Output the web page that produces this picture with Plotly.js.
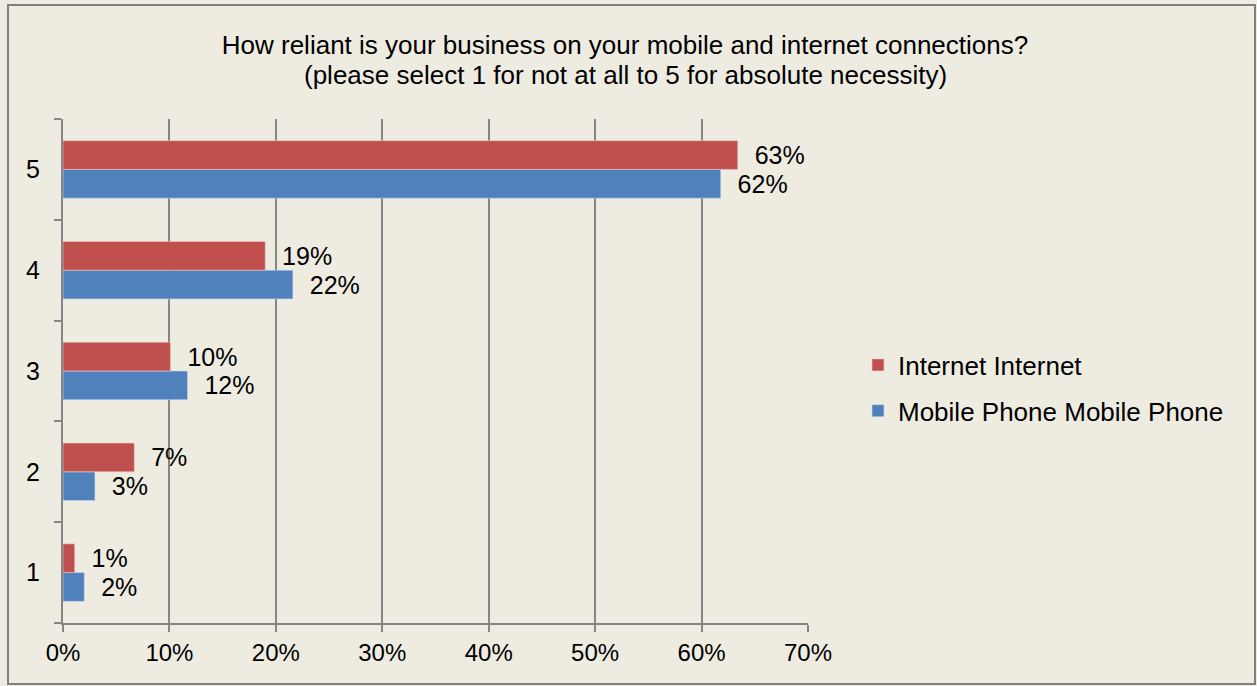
<!DOCTYPE html>
<html>
<head>
<meta charset="utf-8">
<script src="https://cdn.plot.ly/plotly-3.0.1.min.js"></script>
<style>
html,body{margin:0;padding:0;background:#fff;}
#chart{width:1257px;height:686px;}
</style>
</head>
<body>
<div id="chart"></div>
<script>
var categories = ['1', '2', '3', '4', '5'];
var internetValues = [1.1, 6.7, 10.1, 19.0, 63.4];
var mobileValues = [2.0, 3.0, 11.7, 21.6, 61.8];
var xTickVals = [0, 10, 20, 30, 40, 50, 60, 70];
var xTickText = ['0%', '10%', '20%', '30%', '40%', '50%', '60%', '70%'];
var seriesNames = ['Internet Internet', 'Mobile Phone Mobile Phone'];
var titleLines = ['How reliant is your business on your mobile and internet connections?',
                  '(please select 1 for not at all to 5 for absolute necessity)'];

var fontFam = 'Liberation Sans, Arial, sans-serif';

var traces = [
  {
    type: 'bar', orientation: 'h', name: seriesNames[1], legendgroup: 'b', legendrank: 2,
    y: categories, x: mobileValues,
    marker: {color: '#4F81BD', line: {color: 'rgba(200,215,235,0.6)', width: 1}},
    text: mobileValues, texttemplate: '\u00a0\u00a0%{x:.0f}%', textposition: 'outside',
    textfont: {family: fontFam, size: 25, color: '#000'}, cliponaxis: false,
    hoverinfo: 'skip'
  },
  {
    type: 'bar', orientation: 'h', name: seriesNames[0], legendgroup: 'a', legendrank: 1,
    y: categories, x: internetValues,
    marker: {color: '#C0504D', line: {color: 'rgba(235,200,200,0.6)', width: 1}},
    text: internetValues, texttemplate: '\u00a0\u00a0%{x:.0f}%', textposition: 'outside',
    textfont: {family: fontFam, size: 25, color: '#000'}, cliponaxis: false,
    hoverinfo: 'skip'
  }
];

var layout = {
  width: 1257, height: 686,
  paper_bgcolor: '#EEECE1', plot_bgcolor: '#EEECE1',
  margin: {l: 63, r: 449, t: 119, b: 63, pad: 0},
  font: {family: fontFam, size: 24, color: '#000'},
  title: {
    text: titleLines[0],
    font: {family: fontFam, size: 26, color: '#000'},
    x: 625 / 1257, xanchor: 'center', xref: 'container',
    y: 1 - 45 / 686, yanchor: 'middle', yref: 'container'
  },
  annotations: [{
    text: titleLines[1], showarrow: false,
    xref: 'paper', yref: 'paper',
    x: (625 - 63) / 745, xanchor: 'center',
    y: 1 + (119 - 75) / 504, yanchor: 'middle',
    font: {family: fontFam, size: 26, color: '#000'}
  }],
  barmode: 'group', bargap: 0.43, bargroupgap: 0,
  xaxis: {
    range: [0, 70], tickvals: xTickVals, ticktext: xTickText,
    showgrid: true, gridcolor: '#868686', gridwidth: 2,
    showline: true, linecolor: '#868686', linewidth: 2,
    ticks: 'outside', ticklen: 7, tickwidth: 2, tickcolor: '#868686',
    tickfont: {family: fontFam, size: 24, color: '#000'},
    zeroline: false, fixedrange: true
  },
  yaxis: {
    type: 'category', categoryorder: 'array', categoryarray: categories,
    range: [-0.5, 4.5],
    showgrid: false, showline: true, linecolor: '#868686', linewidth: 2,
    ticks: 'outside', ticklen: 7, tickwidth: 2, tickcolor: '#868686',
    tickson: 'boundaries', ticklabelstandoff: 16,
    tickfont: {family: fontFam, size: 25, color: '#000'},
    zeroline: false, fixedrange: true
  },
  legend: {
    x: (858 - 63) / 745, xanchor: 'left',
    y: 1 - (388 - 119) / 504, yanchor: 'middle',
    traceorder: 'grouped', tracegroupgap: 9,
    bgcolor: 'rgba(0,0,0,0)',
    font: {family: fontFam, size: 26, color: '#000'}
  },
  shapes: [{
    type: 'rect', xref: 'paper', yref: 'paper',
    x0: (8 - 63) / 745, x1: (1255 - 63) / 745,
    y0: -(684 - 623) / 504, y1: 1 + (119 - 5) / 504,
    line: {color: '#808080', width: 2}, fillcolor: 'rgba(0,0,0,0)', layer: 'below'
  }],
  showlegend: true
};

Plotly.newPlot('chart', traces, layout, {displayModeBar: false, staticPlot: true});
</script>
</body>
</html>
